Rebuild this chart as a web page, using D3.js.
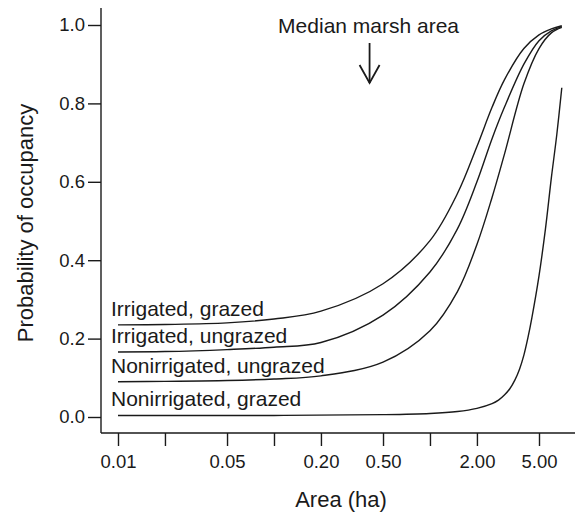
<!DOCTYPE html>
<html>
<head>
<meta charset="utf-8">
<script src="https://cdn.jsdelivr.net/npm/d3@7"></script>
<style>
  body { margin: 0; background: #fff; }
  svg text { font-family: "Liberation Sans", Arial, Helvetica, sans-serif; fill: #1a1a1a; }
</style>
</head>
<body>
<div id="chart"></div>
<script>
// values
var areas = [0.01, 0.02, 0.05, 0.1, 0.2, 0.5, 1, 1.5, 2, 2.5, 3, 4, 5, 6, 7];
var irrigatedGrazed = [0.235, 0.236, 0.24, 0.25, 0.27, 0.34, 0.45, 0.57, 0.69, 0.79, 0.86, 0.94, 0.975, 0.99, 0.998];
var irrigatedUngrazed = [0.166, 0.167, 0.172, 0.178, 0.19, 0.26, 0.37, 0.48, 0.60, 0.71, 0.79, 0.90, 0.96, 0.985, 0.996];
var nonirrigatedUngrazed = [0.09, 0.091, 0.093, 0.097, 0.105, 0.14, 0.22, 0.32, 0.44, 0.56, 0.67, 0.85, 0.94, 0.98, 0.994];
var areasNG = [0.01, 0.1, 0.5, 1, 1.5, 2, 2.5, 2.75, 3, 3.25, 3.5, 3.75, 4, 4.25, 4.5, 5, 5.5, 6, 6.5, 7];
var nonirrigatedGrazed = [0.004, 0.004, 0.006, 0.009, 0.014, 0.022, 0.034, 0.043, 0.056, 0.072, 0.094, 0.122, 0.158, 0.203, 0.253, 0.36, 0.48, 0.61, 0.72, 0.84];

var seriesNames = ['Irrigated, grazed', 'Irrigated, ungrazed', 'Nonirrigated, ungrazed', 'Nonirrigated, grazed'];
var xTicks = [0.01, 0.02, 0.05, 0.1, 0.2, 0.5, 1, 2, 5];
var xLabelled = [0.01, 0.05, 0.2, 0.5, 2, 5];
var yTicks = [0, 0.2, 0.4, 0.6, 0.8, 1.0];
var medianArea = 0.41;

var width = 575;
var height = 514;
var axisX = 101;      // y axis line position
var axisY = 433;      // x axis line position

var x = d3.scaleLog().domain([0.01, 5]).range([118, 539]);
var y = d3.scaleLinear().domain([0, 1]).range([417, 25]);

var svg = d3.select('#chart').append('svg').attr('width', width).attr('height', height);

// axis lines
svg.append('line').attr('x1', axisX).attr('x2', axisX).attr('y1', 8).attr('y2', axisY)
  .attr('stroke', '#1a1a1a').attr('stroke-width', 1.4);
svg.append('line').attr('x1', axisX).attr('x2', 575).attr('y1', axisY).attr('y2', axisY)
  .attr('stroke', '#1a1a1a').attr('stroke-width', 1.4);

// y axis
var yAxis = svg.append('g').attr('transform', 'translate(' + axisX + ',0)')
  .call(d3.axisLeft(y).tickValues(yTicks).tickFormat(d3.format('.1f')).tickSize(13).tickPadding(3));
yAxis.select('.domain').remove();
yAxis.selectAll('line').attr('stroke', '#1a1a1a').attr('stroke-width', 1.4);
yAxis.selectAll('text').style('font-size', '18.5px').style('fill', '#1a1a1a');

// x axis
var xAxis = svg.append('g').attr('transform', 'translate(0,' + axisY + ')')
  .call(d3.axisBottom(x).tickValues(xTicks)
    .tickFormat(function(d){ return xLabelled.indexOf(d) >= 0 ? d3.format('.2f')(d) : ''; })
    .tickSize(13).tickPadding(9));
xAxis.select('.domain').remove();
xAxis.selectAll('line').attr('stroke', '#1a1a1a').attr('stroke-width', 1.4);
xAxis.selectAll('text').style('font-size', '18.5px').style('fill', '#1a1a1a');

// axis titles
svg.append('text').attr('x', 341).attr('y', 507).attr('text-anchor', 'middle')
  .style('font-size', '22px').text('Area (ha)');
svg.append('text').attr('transform', 'translate(33,' + 223 + ') rotate(-90)').attr('text-anchor', 'middle')
  .style('font-size', '22px').text('Probability of occupancy');

// curves
var line = d3.line().x(function(d){ return x(d[0]); }).y(function(d){ return y(d[1]); })
  .curve(d3.curveCatmullRom.alpha(0.5));
var curves = [
  d3.zip(areas, irrigatedGrazed),
  d3.zip(areas, irrigatedUngrazed),
  d3.zip(areas, nonirrigatedUngrazed),
  d3.zip(areasNG, nonirrigatedGrazed)
];
svg.selectAll('path.curve').data(curves).enter().append('path')
  .attr('class', 'curve').attr('d', line)
  .attr('fill', 'none').attr('stroke', '#1a1a1a').attr('stroke-width', 1.4);

// curve labels, sitting just above each line at the left
svg.selectAll('text.label').data(seriesNames).enter().append('text')
  .attr('class', 'label')
  .attr('x', 111)
  .attr('y', function(d, i){ return y(curves[i][0][1]) - 9; })
  .style('font-size', '21px')
  .text(function(d){ return d; });

// median marsh area arrow
var mx = x(medianArea);
svg.append('text').attr('x', mx - 1).attr('y', 33).attr('text-anchor', 'middle')
  .style('font-size', '21px').text('Median marsh area');
svg.append('line').attr('x1', mx).attr('x2', mx).attr('y1', 43).attr('y2', 83)
  .attr('stroke', '#1a1a1a').attr('stroke-width', 1.8);
svg.append('path').attr('d', 'M' + (mx - 10) + ',65 L' + mx + ',83 L' + (mx + 10) + ',65')
  .attr('fill', 'none').attr('stroke', '#1a1a1a').attr('stroke-width', 1.8);
</script>
</body>
</html>
